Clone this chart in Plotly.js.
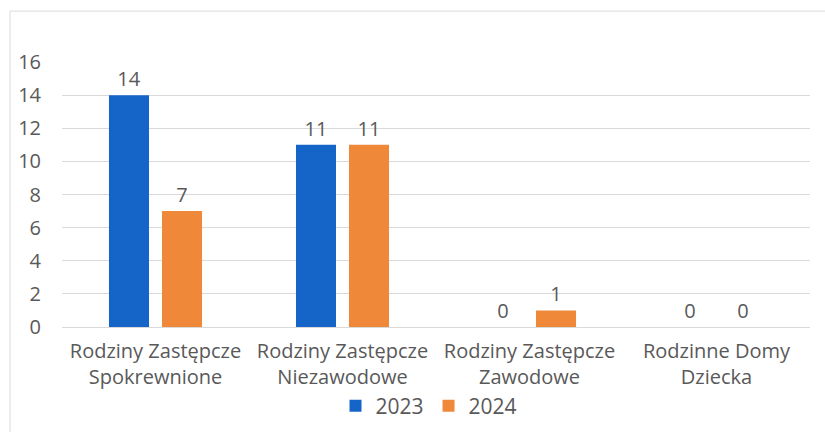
<!DOCTYPE html>
<html><head><meta charset="utf-8">
<script src="https://cdn.plot.ly/plotly-3.0.1.min.js"></script>
<style>html,body{margin:0;padding:0;background:#fff}#c{width:825px;height:432px}</style>
</head><body><div id="c"></div>
<script>
const categories = ["Rodziny Zastępcze<br>Spokrewnione", "Rodziny Zastępcze<br>Niezawodowe", "Rodziny Zastępcze<br>Zawodowe", "Rodzinne Domy<br>Dziecka"];
const values2023 = [14, 11, 0, 0];
const values2024 = [7, 11, 1, 0];
const yTicks = [0, 2, 4, 6, 8, 10, 12, 14, 16];

const font = {family: "'Open Sans', Lato, sans-serif", size: 18, color: "#595959"};
const traces = [
  {type: "bar", name: "2023", x: categories, y: values2023, marker: {color: "#1565c8"},
   text: values2023.map(String), textposition: "outside", cliponaxis: false,
   textfont: {size: 20, color: "#595959"}},
  {type: "bar", name: "2024", x: categories, y: values2024, marker: {color: "#f0883a"},
   text: values2024.map(String), textposition: "outside", cliponaxis: false,
   textfont: {size: 20, color: "#595959"}}
];
const layout = {
  width: 825, height: 432,
  margin: {l: 62, r: 15, t: 62, b: 105},
  paper_bgcolor: "#fff", plot_bgcolor: "#fff",
  font: font,
  barmode: "group", bargap: 0.433, bargroupgap: 0.245,
  showlegend: true,
  legend: {orientation: "h", x: 0.52, xanchor: "center", xref: "container",
           y: 0.06, yanchor: "middle", yref: "container",
           font: {size: 21, color: "#595959"}, itemwidth: 30, traceorder: "normal",
           bgcolor: "rgba(0,0,0,0)"},
  xaxis: {tickfont: {size: 20, color: "#595959"}, showline: true, linecolor: "#d9d9d9",
          ticks: "", ticklabelstandoff: 6, automargin: false},
  yaxis: {range: [0, 16], tickvals: yTicks, ticktext: yTicks.map(String),
          tickfont: {size: 20, color: "#595959"}, gridcolor: "#d9d9d9", zeroline: false,
          ticks: "", ticklabelstandoff: 20, automargin: false},
  shapes: [{type: "rect", xref: "paper", yref: "paper", x0: -0.0695, x1: 1.03, y0: -0.45, y1: 1.192,
            line: {color: "#d9d9d9", width: 1}}]
};
Plotly.newPlot("c", traces, layout, {displayModeBar: false, staticPlot: true});
</script></body></html>
